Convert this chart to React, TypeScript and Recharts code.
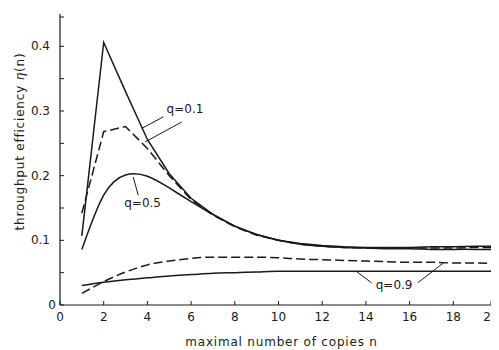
import React from 'react';
import {
  LineChart,
  Line,
  XAxis,
  YAxis,
  ReferenceLine,
  ReferenceDot,
} from 'recharts';

// maximal number of copies n
const copies = [1, 2, 3, 4, 5, 6, 7, 8, 9, 10, 11, 12, 13, 14, 15, 16, 17, 18, 19, 20];

// throughput efficiency
const solidQ01 = [0.107, 0.406, 0.33, 0.256, 0.203, 0.165, 0.14, 0.122, 0.109, 0.1, 0.095, 0.092, 0.09, 0.089, 0.089, 0.089, 0.09, 0.09, 0.091, 0.091];
const dashedQ01 = [0.142, 0.268, 0.276, 0.242, 0.2, 0.163, 0.139, 0.121, 0.108, 0.1, 0.094, 0.091, 0.089, 0.088, 0.088, 0.088, 0.088, 0.088, 0.089, 0.089];
const solidQ05 = [0.086, 0.17, 0.201, 0.199, 0.181, 0.16, 0.14, 0.122, 0.109, 0.1, 0.094, 0.091, 0.089, 0.088, 0.087, 0.087, 0.086, 0.086, 0.086, 0.086];
const dashedQ09 = [0.018, 0.036, 0.051, 0.062, 0.068, 0.072, 0.074, 0.074, 0.074, 0.073, 0.071, 0.07, 0.069, 0.068, 0.067, 0.066, 0.066, 0.065, 0.065, 0.064];
const solidQ09 = [0.03, 0.035, 0.039, 0.042, 0.045, 0.047, 0.049, 0.05, 0.051, 0.052, 0.052, 0.052, 0.052, 0.052, 0.052, 0.052, 0.052, 0.052, 0.052, 0.052];

const xTicks = [0, 2, 4, 6, 8, 10, 12, 14, 16, 18, 20];
const yTicks = [0, 0.05, 0.1, 0.15, 0.2, 0.25, 0.3, 0.35, 0.4, 0.45];

const data = copies.map((n, i) => ({
  n,
  s01: solidQ01[i],
  d01: dashedQ01[i],
  s05: solidQ05[i],
  d09: dashedQ09[i],
  s09: solidQ09[i],
}));

const INK = '#1a1a1a';
const FONT = '"DejaVu Sans", sans-serif';

const XTick = (props: any) => {
  const { x, y, payload } = props;
  return (
    <g>
      <line x1={x} y1={y} x2={x} y2={y - 4} stroke={INK} strokeWidth={1} />
      <text x={x} y={y + 16} textAnchor="middle" fontSize={12} fill={INK} fontFamily={FONT}>
        {payload.value}
      </text>
    </g>
  );
};

const YTick = (props: any) => {
  const { x, y, payload } = props;
  const v = payload.value;
  const labelled = Math.round(v * 100) % 10 === 0;
  const isZero = v === 0;
  return (
    <g>
      <line x1={x} y1={y} x2={x + 4} y2={y} stroke={INK} strokeWidth={1} />
      {labelled && (
        <text
          x={isZero ? x - 4 : x - 10}
          y={y + 4}
          textAnchor="end"
          fontSize={12}
          fill={INK}
          fontFamily={FONT}
        >
          {isZero ? '0' : v.toFixed(1)}
        </text>
      )}
    </g>
  );
};

const YTitle = (props: any) => {
  const vb = props.viewBox;
  const cx = vb.x + 12;
  const cy = vb.y + vb.height / 2 - 18;
  return (
    <text
      x={cx}
      y={cy}
      transform={`rotate(-90 ${cx} ${cy})`}
      textAnchor="middle"
      dominantBaseline="central"
      fontSize={12}
      fill={INK}
      fontFamily={FONT}
      letterSpacing={0.8}
    >
      throughput efficiency <tspan fontStyle="italic">η</tspan>(n)
    </text>
  );
};

const XTitle = (props: any) => {
  const vb = props.viewBox;
  return (
    <text
      x={vb.x + vb.width / 2 + 3}
      y={vb.y + 41}
      textAnchor="middle"
      fontSize={12}
      fill={INK}
      fontFamily={FONT}
      letterSpacing={0.8}
    >
      maximal number of copies n
    </text>
  );
};

const noteLabel = (value: string) => ({
  value,
  position: 'center' as const,
  fill: INK,
  fontSize: 12,
  fontFamily: FONT,
});

export default function App() {
  return (
    <LineChart
      width={491}
      height={342}
      data={data}
      margin={{ top: 6, right: 2, left: 0, bottom: 0 }}
    >
      <XAxis
        dataKey="n"
        type="number"
        domain={[0, 20]}
        ticks={xTicks}
        tick={XTick}
        tickLine={false}
        tickSize={0}
        tickMargin={0}
        height={45}
        axisLine={{ stroke: INK, strokeWidth: 1.2 }}
        label={{ content: XTitle }}
      />
      <YAxis
        type="number"
        domain={[0, 0.45]}
        ticks={yTicks}
        tick={YTick}
        tickLine={false}
        tickSize={0}
        tickMargin={0}
        width={52}
        axisLine={{ stroke: INK, strokeWidth: 1.2 }}
        label={{ content: YTitle }}
      />

      <Line type="linear" dataKey="s01" stroke={INK} strokeWidth={1.5} dot={false} isAnimationActive={false} />
      <Line type="linear" dataKey="d01" stroke={INK} strokeWidth={1.5} strokeDasharray="9 4" dot={false} isAnimationActive={false} />
      <Line type="natural" dataKey="s05" stroke={INK} strokeWidth={1.5} dot={false} isAnimationActive={false} />
      <Line type="monotone" dataKey="d09" stroke={INK} strokeWidth={1.5} strokeDasharray="9 4" dot={false} isAnimationActive={false} />
      <Line type="monotone" dataKey="s09" stroke={INK} strokeWidth={1.5} dot={false} isAnimationActive={false} />

      {/* leader lines for the q labels */}
      <ReferenceLine segment={[{ x: 4.73, y: 0.291 }, { x: 3.74, y: 0.273 }]} stroke={INK} strokeWidth={1} />
      <ReferenceLine segment={[{ x: 5.57, y: 0.283 }, { x: 3.89, y: 0.252 }]} stroke={INK} strokeWidth={1} />
      <ReferenceLine segment={[{ x: 3.35, y: 0.198 }, { x: 3.58, y: 0.17 }]} stroke={INK} strokeWidth={1} />
      <ReferenceLine segment={[{ x: 13.58, y: 0.0515 }, { x: 14.27, y: 0.034 }]} stroke={INK} strokeWidth={1} />
      <ReferenceLine segment={[{ x: 16.38, y: 0.0345 }, { x: 17.53, y: 0.0645 }]} stroke={INK} strokeWidth={1} />

      <ReferenceDot x={5.72} y={0.303} r={0} fill="none" stroke="none" label={noteLabel('q=0.1')} />
      <ReferenceDot x={3.78} y={0.158} r={0} fill="none" stroke="none" label={noteLabel('q=0.5')} />
      <ReferenceDot x={15.29} y={0.031} r={0} fill="none" stroke="none" label={noteLabel('q=0.9')} />
    </LineChart>
  );
}
